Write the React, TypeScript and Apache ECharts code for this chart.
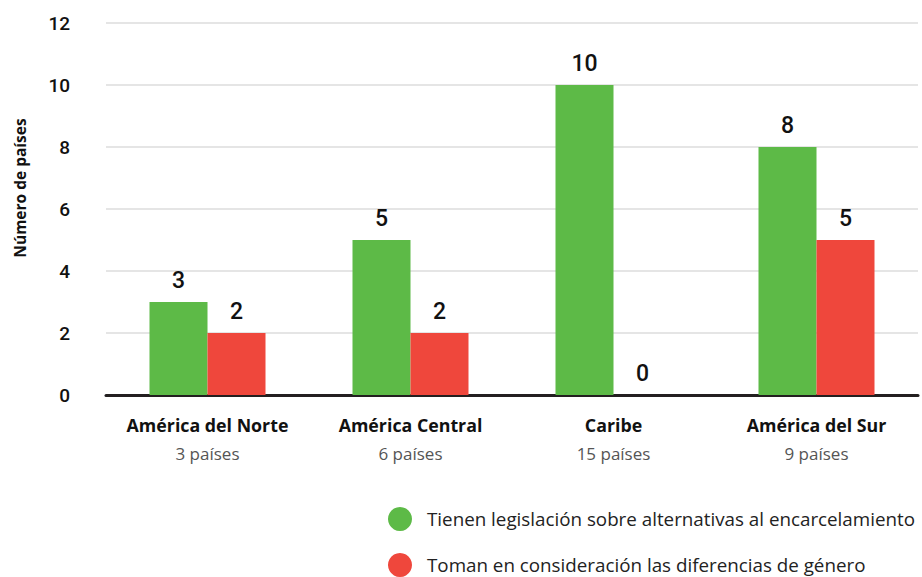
import React, { useEffect, useRef } from "react";
import * as echarts from "echarts";

const categories = ["América del Norte", "América Central", "Caribe", "América del Sur"];
const countryCounts = ["3 países", "6 países", "15 países", "9 países"];
const seriesNames = [
  "Tienen legislación sobre alternativas al encarcelamiento",
  "Toman en consideración las diferencias de género",
];
const legislation = [3, 5, 10, 8];
const gender = [2, 2, 0, 5];
const yTicks = { min: 0, max: 12, interval: 2 };
const yAxisTitle = "Número de países";

export default function App() {
  const ref = useRef<HTMLDivElement>(null);
  useEffect(() => {
    if (!ref.current) return;
    const chart = echarts.init(ref.current, undefined, { renderer: "svg" });
    const labelStyle = {
      show: true,
      position: "top" as const,
      distance: 10,
      color: "#111",
      fontFamily: "Roboto",
      fontWeight: 500,
      fontSize: 23,
    };
    const legendBase = {
      orient: "vertical" as const,
      left: 383,
      icon: "circle",
      itemWidth: 24,
      itemHeight: 24,
      selectedMode: false,
      textStyle: {
        fontFamily: "Open Sans",
        fontSize: 18.8,
        color: "#222",
        padding: [0, 0, 0, 10],
      },
    };
    chart.setOption({
      animation: false,
      backgroundColor: "#fff",
      grid: { left: 106, right: 4, top: 23, bottom: 182, containLabel: false },
      legend: [
        { ...legendBase, top: 502, data: [seriesNames[0]] },
        { ...legendBase, top: 548, data: [seriesNames[1]] },
      ],
      graphic: [
        {
          type: "text",
          x: 20,
          y: 188,
          rotation: Math.PI / 2,
          style: {
            text: yAxisTitle,
            fontFamily: "Open Sans",
            fontWeight: "bold",
            fontSize: 15.5,
            fill: "#111",
            align: "center",
            verticalAlign: "middle",
          },
        },
      ],
      xAxis: {
        type: "category",
        data: categories,
        axisLine: { show: true, lineStyle: { color: "#231f20", width: 3 } },
        axisTick: { show: false },
        axisLabel: {
          interval: 0,
          margin: 16,
          formatter: (v: string, i: number) => `{b|${v}}\n{s|${countryCounts[i]}}`,
          rich: {
            b: { fontFamily: "Open Sans", fontWeight: "bold", fontSize: 17.8, color: "#111", lineHeight: 28 },
            s: { fontFamily: "Open Sans", fontSize: 17, color: "#555", lineHeight: 28 },
          },
        },
      },
      yAxis: {
        type: "value",
        min: yTicks.min,
        max: yTicks.max,
        interval: yTicks.interval,
        axisLine: { show: false },
        axisTick: { show: false },
        axisLabel: { margin: 36, fontFamily: "Roboto", fontWeight: 500, fontSize: 19, color: "#111" },
        splitLine: { lineStyle: { color: "#dcdcdc", width: 1.5 } },
      },
      series: [
        {
          name: seriesNames[0],
          type: "bar",
          data: legislation,
          barWidth: 58,
          barGap: "0%",
          itemStyle: { color: "#5dba47" },
          label: labelStyle,
        },
        {
          name: seriesNames[1],
          type: "bar",
          data: gender,
          barWidth: 58,
          barGap: "0%",
          itemStyle: { color: "#ef473c" },
          label: labelStyle,
        },
      ],
    });
    return () => chart.dispose();
  }, []);
  return (
    <div
      ref={ref}
      style={{ position: "absolute", left: 0, top: 0, width: 922, height: 577 }}
    />
  );
}
